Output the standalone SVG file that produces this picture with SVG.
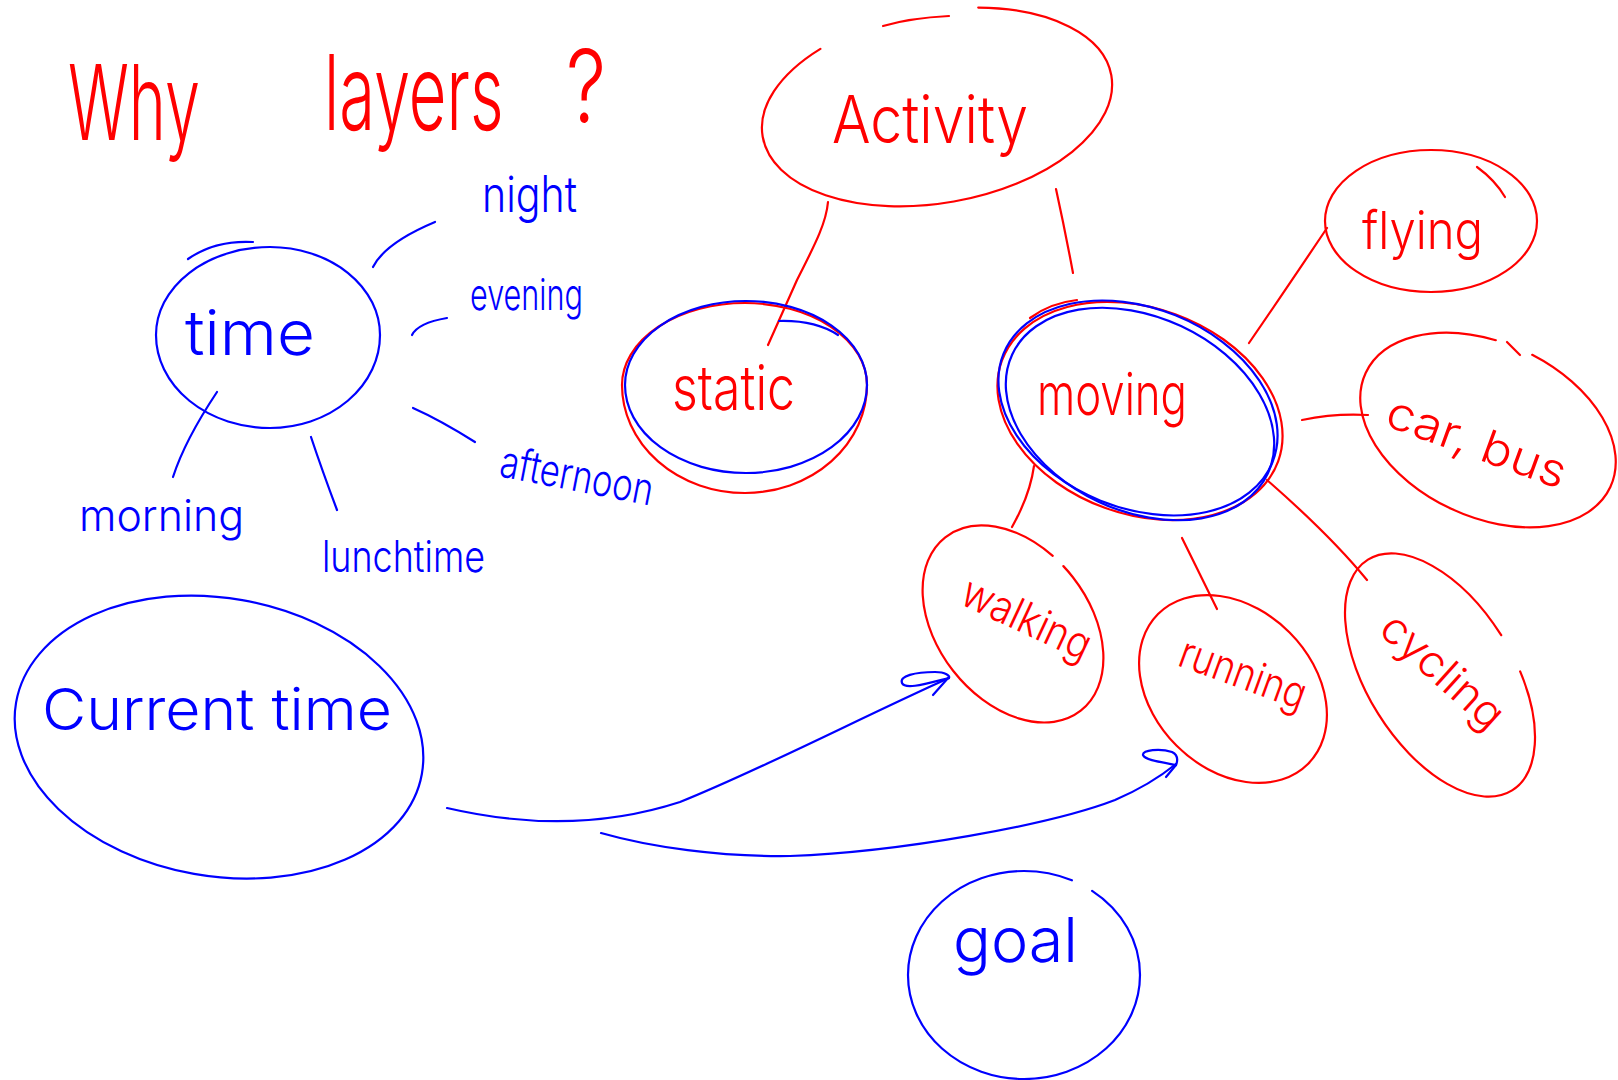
<svg xmlns="http://www.w3.org/2000/svg" width="1618" height="1080" viewBox="0 0 1618 1080">
<style>
.r{stroke:#ff0000;fill:none;stroke-width:2.2;stroke-linecap:round;stroke-linejoin:round}
.b{stroke:#0000ff;fill:none;stroke-width:2.2;stroke-linecap:round;stroke-linejoin:round}
text{font-family:"Inter","Lato","Noto Sans",sans-serif;font-weight:300}
.tr{fill:#ff0000}
.tb{fill:#0000ff}
</style>
<rect width="1618" height="1080" fill="#ffffff"/>
<g id="title">
<text class="tr" x="0" y="0" font-size="105" transform="translate(68,140) scale(0.6,1)">Why</text>
<text class="tr" x="0" y="0" font-size="105" transform="translate(324,130) scale(0.62,1)">layers</text>
<text class="tr" x="0" y="0" font-size="100" transform="translate(566,122) scale(0.8,1)">?</text>
</g>
<g id="connectors">
<path class="b" d="M373,267 Q385,243 435,222"/>
<path class="b" d="M412,335 Q418,323 447,318"/>
<path class="b" d="M413,408 Q440,420 475,442"/>
<path class="b" d="M217,392 Q185,440 173,477"/>
<path class="b" d="M311,437 Q322,470 337,510"/>
<path class="r" d="M828,202 C826,225 812,250 797,280 L768,345"/>
<path class="r" d="M1056,189 Q1065,230 1073,273"/>
<path class="r" d="M1249,343 Q1280,298 1327,228"/>
<path class="r" d="M1302,420 Q1335,413 1368,415"/>
<path class="r" d="M1034,466 Q1030,495 1012,527"/>
<path class="r" d="M1182,538 L1217,609"/>
<path class="r" d="M1267,480 Q1330,535 1367,580"/>
<path class="b" d="M447,808 C520,825 600,828 680,802 C760,770 860,718 949,678"/>
<path class="b" d="M949,677 L933,695"/>
<path class="b" d="M949,678 C925,684 905,690 902,683 C899,676 915,672 935,672 C946,672 950,676 949,678"/>
<path class="b" d="M601,833 C650,847 720,857 790,856 C900,852 1050,825 1115,800 Q1150,785 1176,764"/>
<path class="b" d="M1176,765 L1166,777"/>
<path class="b" d="M1176,765 C1160,762 1145,760 1143,755 C1142,750 1160,748 1172,752 C1178,755 1178,760 1176,765"/>
</g>
<g id="time">
<path class="b" d="M270,247 A110 88 0 0 1 380,335 A110 93 0 0 1 270,428 A114 93 0 0 1 156,335 A114 88 0 0 1 270,247"/>
<path class="b" d="M188,259 Q215,240 253,242"/>
<text class="tb" x="185" y="355" font-size="62" textLength="130" lengthAdjust="spacingAndGlyphs">time</text>
</g>
<g id="night"><text class="tb" x="482" y="212" font-size="50" textLength="95" lengthAdjust="spacingAndGlyphs">night</text></g>
<g id="evening"><text class="tb" x="470" y="310" font-size="44" textLength="113" lengthAdjust="spacingAndGlyphs">evening</text></g>
<g id="afternoon"><text class="tb" x="498" y="476" font-size="44" textLength="155" lengthAdjust="spacingAndGlyphs" transform="rotate(11 498 476)">afternoon</text></g>
<g id="morning"><text class="tb" x="79" y="531" font-size="44" textLength="165" lengthAdjust="spacingAndGlyphs">morning</text></g>
<g id="lunchtime"><text class="tb" x="322" y="572" font-size="44" textLength="163" lengthAdjust="spacingAndGlyphs">lunchtime</text></g>
<g id="current-time">
<path class="b" transform="rotate(10 218 738)" d="M218,598 A207 140 0 0 1 425,738 A207 138 0 0 1 218,876 A205 138 0 0 1 13,738 A205 140 0 0 1 218,598"/>
<text class="tb" x="42" y="730" font-size="58" textLength="350" lengthAdjust="spacingAndGlyphs">Current time</text>
</g>
<g id="activity">
<path class="r" transform="rotate(-10 937 106)" pathLength="876" stroke-dasharray="711 165" stroke-dashoffset="-58" d="M937,11 A177 95 0 0 1 1114,106 A177 97 0 0 1 937,203 A177 97 0 0 1 760,106 A177 95 0 0 1 937,11"/>
<path class="r" d="M883,26 Q910,18 949,16"/>
<text class="tr" x="832" y="143" font-size="66" textLength="196" lengthAdjust="spacingAndGlyphs">Activity</text>
</g>
<g id="static">
<path class="r" d="M745,303 A122 82 0 0 1 867,385 A122 108 0 0 1 745,493 A123 108 0 0 1 622,385 A123 82 0 0 1 745,303"/>
<path class="b" d="M746,301 A121 84 0 0 1 867,385 A121 88 0 0 1 746,473 A121 88 0 0 1 625,385 A121 84 0 0 1 746,301"/>
<path class="b" d="M779,321 Q815,320 838,335"/>
<text class="tr" x="672" y="410" font-size="62" textLength="123" lengthAdjust="spacingAndGlyphs">static</text>
</g>
<g id="moving">
<ellipse class="r" cx="1140" cy="411" rx="147" ry="103" transform="rotate(20 1140 411)"/>
<ellipse class="b" cx="1138" cy="408" rx="145" ry="100" transform="rotate(22 1138 408)"/>
<ellipse class="b" cx="1140" cy="414" rx="141" ry="97" transform="rotate(25 1140 414)"/>
<path class="r" d="M1077,300 Q1050,303 1030,318"/>
<text class="tr" x="1037" y="415" font-size="58" textLength="150" lengthAdjust="spacingAndGlyphs">moving</text>
</g>
<g id="flying">
<ellipse class="r" cx="1431" cy="221" rx="106" ry="71"/>
<path class="r" d="M1477,167 Q1495,180 1505,197"/>
<text class="tr" x="1362" y="249" font-size="52" textLength="121" lengthAdjust="spacingAndGlyphs">flying</text>
</g>
<g id="car-bus">
<ellipse class="r" cx="1488" cy="430" rx="135" ry="87" transform="rotate(25 1488 430)" pathLength="1000" stroke-dasharray="706 56 1000"/>
<path class="r" d="M1507,342 L1520,355"/>
<text class="tr" x="1383" y="425" font-size="46" textLength="188" lengthAdjust="spacingAndGlyphs" transform="rotate(20 1383 425)">car, bus</text>
</g>
<g id="walking">
<ellipse class="r" cx="1013" cy="624" rx="110" ry="76" transform="rotate(52 1013 624)" pathLength="1000" stroke-dasharray="700 25 1000"/>
<text class="tr" x="958" y="603" font-size="44" textLength="138" lengthAdjust="spacingAndGlyphs" transform="rotate(25 958 603)">walking</text>
</g>
<g id="running">
<ellipse class="r" cx="1233" cy="689" rx="106" ry="80" transform="rotate(45 1233 689)"/>
<text class="tr" x="1176" y="665" font-size="44" textLength="132" lengthAdjust="spacingAndGlyphs" transform="rotate(20 1176 665)">running</text>
</g>
<g id="cycling">
<ellipse class="r" cx="1440" cy="675" rx="136" ry="73" transform="rotate(58 1440 675)" pathLength="1000" stroke-dasharray="748 61 1000"/>
<text class="tr" x="1377" y="632" font-size="44" textLength="150" lengthAdjust="spacingAndGlyphs" transform="rotate(42 1377 632)">cycling</text>
</g>
<g id="goal">
<ellipse class="b" cx="1024" cy="975" rx="116" ry="104" pathLength="1000" stroke-dasharray="821 33 1000"/>
<text class="tb" x="953" y="962" font-size="62" textLength="125" lengthAdjust="spacingAndGlyphs">goal</text>
</g>
</svg>
